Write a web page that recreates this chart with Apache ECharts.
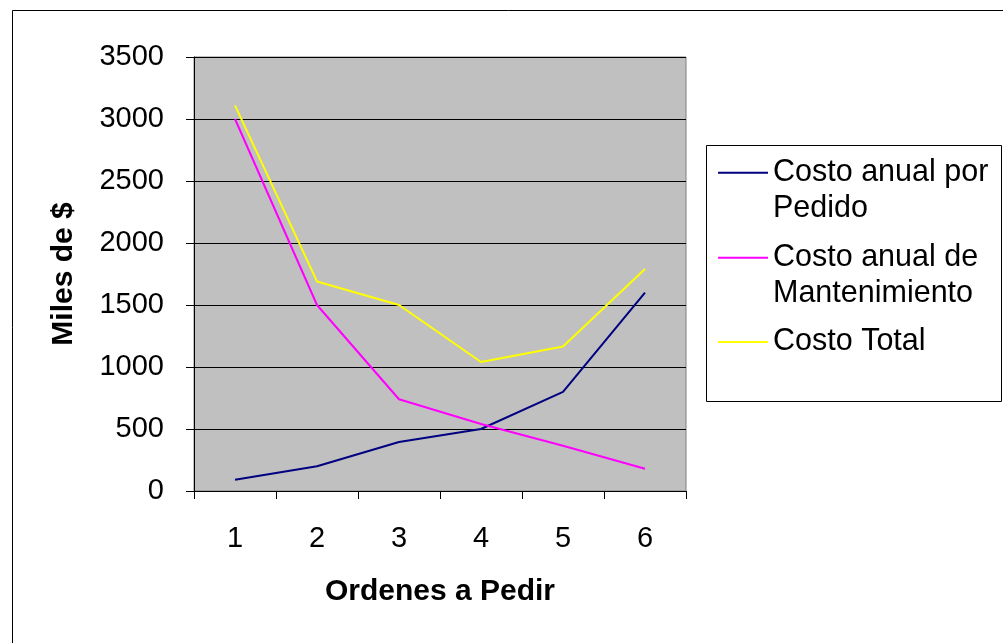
<!DOCTYPE html>
<html>
<head>
<meta charset="utf-8">
<script src="https://cdn.jsdelivr.net/npm/echarts@6/dist/echarts.min.js"></script>
<style>
html,body{margin:0;padding:0;background:#fff;}
#c{width:1003px;height:643px;}
</style>
</head>
<body>
<div id="c"></div>
<script>
const categories = ['1', '2', '3', '4', '5', '6'];
const seriesNames = ['Costo anual por\nPedido', 'Costo anual de\nMantenimiento', 'Costo Total'];
const costoPedido = [90, 200, 395, 500, 800, 1600];
const costoMantenimiento = [3000, 1500, 740, 540, 365, 180];
const costoTotal = [3110, 1690, 1500, 1040, 1166, 1790];
const seriesColors = ['#000080', '#FF00FF', '#FFFF00'];
const yTicks = { min: 0, max: 3500, interval: 500 };

const FONT = 'Liberation Sans, Arial, sans-serif';
const chart = echarts.init(document.getElementById('c'), null, { renderer: 'canvas' });

function legendFor(i, top, name) {
  return {
    show: true,
    orient: 'vertical',
    left: 717,
    top: top,
    padding: 0,
    itemWidth: 50,
    itemHeight: 14,
    selectedMode: false,
    data: [{ name: name, itemStyle: { opacity: 0 } }],
    formatter: function (n) { return n.indexOf('\n') >= 0 ? '\n' + n : n; },
    textStyle: { fontFamily: FONT, fontSize: 30.5, color: '#000', lineHeight: 36 }
  };
}

const option = {
  animation: false,
  backgroundColor: '#fff',
  grid: {
    left: 194, right: 317, top: 57, bottom: 152,
    show: true, backgroundColor: '#C0C0C0', borderColor: '#808080', borderWidth: 1,
    containLabel: false
  },
  xAxis: {
    type: 'category',
    data: categories,
    boundaryGap: true,
    name: 'Ordenes a Pedir',
    nameLocation: 'middle',
    nameGap: 86,
    nameTextStyle: { fontFamily: FONT, fontSize: 30, fontWeight: 'bold', color: '#000' },
    axisLine: { show: true, lineStyle: { color: '#000', width: 1 } },
    axisTick: { show: true, length: 8, inside: false, lineStyle: { color: '#000' } },
    axisLabel: { fontFamily: FONT, fontSize: 29, color: '#000', margin: 33 },
    splitLine: { show: false }
  },
  yAxis: {
    type: 'value',
    min: yTicks.min, max: yTicks.max, interval: yTicks.interval,
    name: 'Miles de $',
    nameLocation: 'middle',
    nameGap: 115,
    nameTextStyle: { fontFamily: FONT, fontSize: 30, fontWeight: 'bold', color: '#000' },
    axisLine: { show: true, lineStyle: { color: '#000', width: 1 } },
    axisTick: { show: true, length: 8, lineStyle: { color: '#000' } },
    axisLabel: { fontFamily: FONT, fontSize: 29, color: '#000', margin: 30,
      formatter: function (v) { return String(v); } },
    splitLine: { show: true, lineStyle: { color: '#000', width: 1 } }
  },
  legend: [
    legendFor(0, 172.7 - 54, seriesNames[0]),
    legendFor(1, 257.7 - 54, seriesNames[1]),
    legendFor(2, 342 - 18, seriesNames[2])
  ],
  graphic: [
    { type: 'rect', left: 10, top: 8, shape: { x: 0, y: 0, width: 1010, height: 700 },
      style: { fill: 'none', stroke: '#000', lineWidth: 1 }, z: -10, silent: true },
    { type: 'rect', shape: { x: 706.5, y: 145.5, width: 295, height: 256 },
      style: { fill: '#fff', stroke: '#000', lineWidth: 1 }, z: -5, silent: true }
  ],
  series: [
    { name: seriesNames[0], type: 'line', data: costoPedido, symbol: 'none',
      lineStyle: { color: seriesColors[0], width: 2 }, itemStyle: { color: seriesColors[0] } },
    { name: seriesNames[1], type: 'line', data: costoMantenimiento, symbol: 'none',
      lineStyle: { color: seriesColors[1], width: 2 }, itemStyle: { color: seriesColors[1] } },
    { name: seriesNames[2], type: 'line', data: costoTotal, symbol: 'none',
      lineStyle: { color: seriesColors[2], width: 2 }, itemStyle: { color: seriesColors[2] } }
  ]
};
chart.setOption(option);
</script>
</body>
</html>
